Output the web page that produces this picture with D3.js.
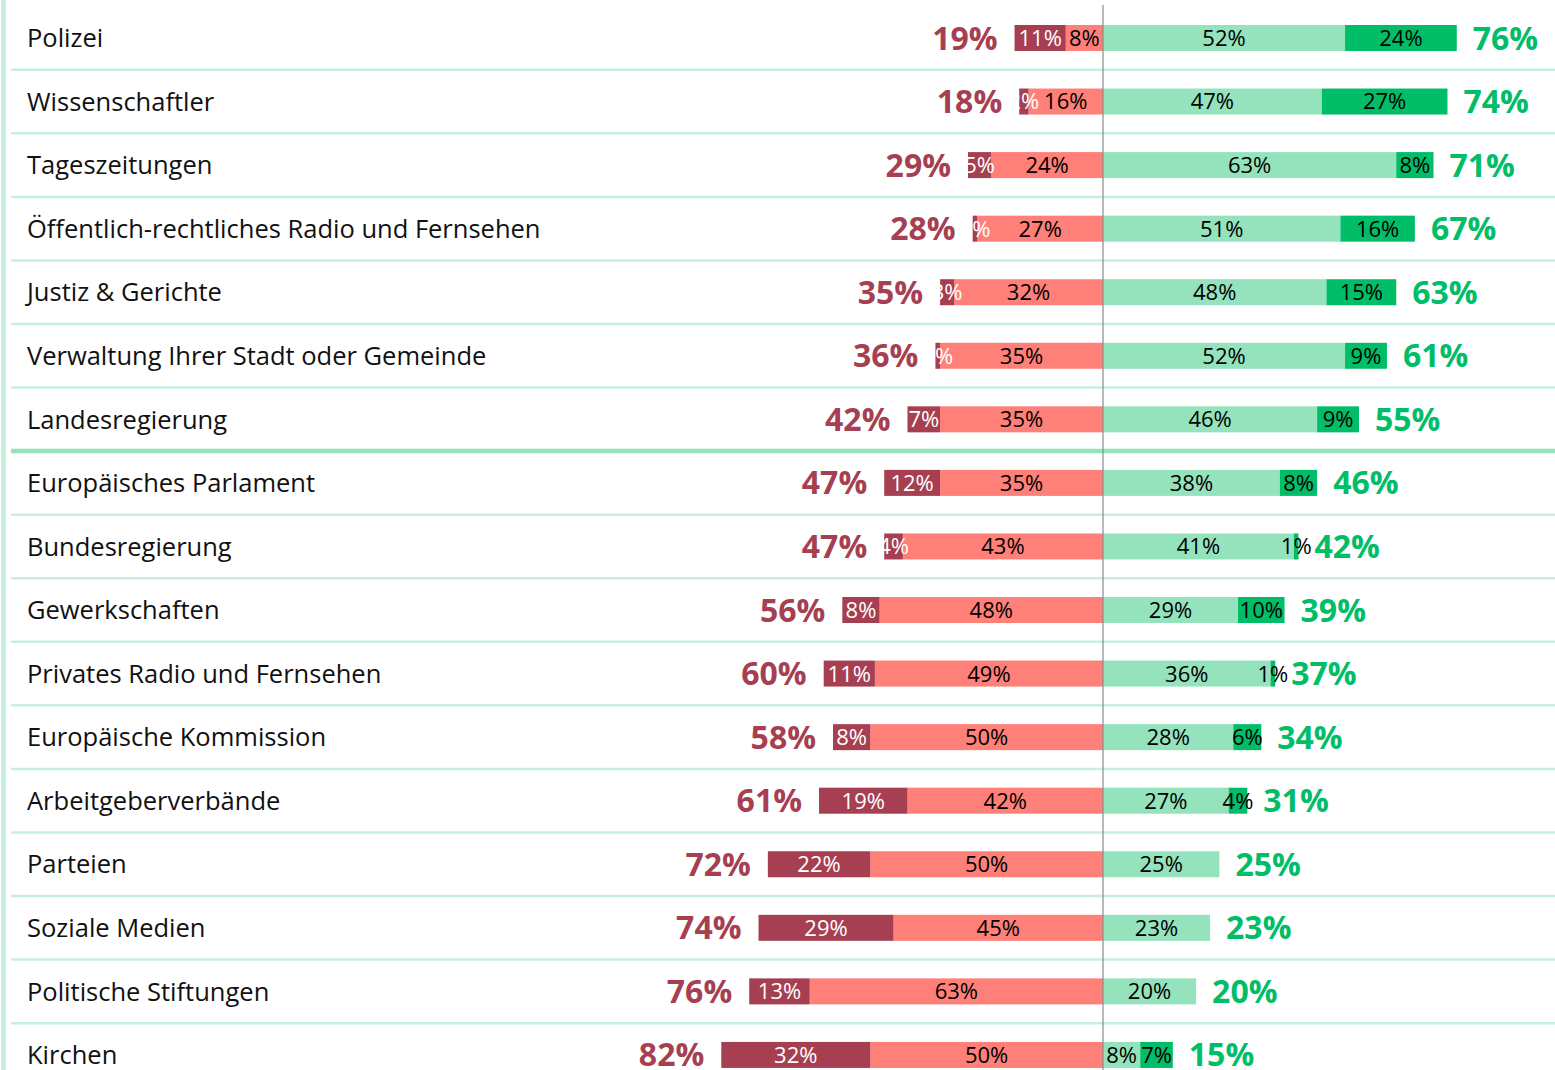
<!DOCTYPE html>
<html>
<head>
<meta charset="utf-8">
<script src="https://cdn.jsdelivr.net/npm/d3@7"></script>
<style>
html,body{margin:0;padding:0;background:#fff;}
svg{display:block;}
</style>
</head>
<body>
<svg id="chart" width="1555" height="1070"></svg>
<script>
const categories = ["Polizei","Wissenschaftler","Tageszeitungen","Öffentlich-rechtliches Radio und Fernsehen","Justiz & Gerichte","Verwaltung Ihrer Stadt oder Gemeinde","Landesregierung","Europäisches Parlament","Bundesregierung","Gewerkschaften","Privates Radio und Fernsehen","Europäische Kommission","Arbeitgeberverbände","Parteien","Soziale Medien","Politische Stiftungen","Kirchen"];
const strongDistrust = [11,2,5,1,3,1,7,12,4,8,11,8,19,22,29,13,32];
const distrust       = [8,16,24,27,32,35,35,35,43,48,49,50,42,50,45,63,50];
const trust          = [52,47,63,51,48,52,46,38,41,29,36,28,27,25,23,20,8];
const strongTrust    = [24,27,8,16,15,9,9,8,1,10,1,6,4,0,0,0,7];
const distrustTotal  = [19,18,29,28,35,36,42,47,47,56,60,58,61,72,74,76,82];
const trustTotal     = [76,74,71,67,63,61,55,46,42,39,37,34,31,25,23,20,15];

const C = {
  darkRed:"#A63F51", lightRed:"#FF7F79", lightGreen:"#94E3BC", darkGreen:"#00BD68",
  redText:"#A63F51", greenText:"#00BD68", sep:"#C6EFDC", sepThick:"#94E3BC", axis:"#8a8a8a"
};

const svg = d3.select("#chart");
const W = 1555, H = 1070;
const center = 1103;
const x = d3.scaleLinear().domain([-100,100]).range([center-465.5, center+465.5]);
const y = d3.scaleBand().domain(categories).range([6.2, 6.2 + 63.56*categories.length]).padding(0);
const barH = 26;

// left vertical accent
svg.append("rect").attr("x",1).attr("y",0).attr("width",5).attr("height",H).attr("fill",C.sep);

// separators
categories.slice(1).forEach((c,i)=>{
  const yy = y(c);
  const thick = (i+1) === 7;
  svg.append("line").attr("x1",11).attr("x2",W).attr("y1",yy).attr("y2",yy)
    .attr("stroke", thick ? C.sepThick : C.sep).attr("stroke-width", thick ? 4.5 : 2.5);
});

// build segments
const segs = [];
categories.forEach((c,i)=>{
  segs.push({c, x0:-distrust[i], x1:0, v:distrust[i], fill:C.lightRed, tc:"#000"});
  segs.push({c, x0:-distrust[i]-strongDistrust[i], x1:-distrust[i], v:strongDistrust[i], fill:C.darkRed, tc:"#fff"});
  segs.push({c, x0:0, x1:trust[i], v:trust[i], fill:C.lightGreen, tc:"#000"});
  segs.push({c, x0:trust[i], x1:trust[i]+strongTrust[i], v:strongTrust[i], fill:C.darkGreen, tc:"#000"});
});
const shown = segs.filter(d=>d.v>0);

svg.append("g").selectAll("rect").data(shown).join("rect")
  .attr("x", d=>x(d.x0)).attr("width", d=>x(d.x1)-x(d.x0))
  .attr("y", d=>y(d.c)+y.bandwidth()/2-barH/2).attr("height", barH)
  .attr("fill", d=>d.fill);

// center line
svg.append("line").attr("x1",center).attr("x2",center).attr("y1",5).attr("y2",H)
  .attr("stroke",C.axis).attr("stroke-width",1.2);

// segment labels
svg.append("g").selectAll("text").data(shown).join("text")
  .attr("x", d=>(x(d.x0)+x(d.x1))/2)
  .attr("y", d=>y(d.c)+y.bandwidth()/2)
  .attr("dy","0.36em")
  .attr("text-anchor","middle")
  .attr("font-family","'Open Sans', sans-serif")
  .attr("font-size",22)
  .attr("fill", d=>d.tc)
  .text(d=>d.v+"%");

// category labels
svg.append("g").selectAll("text").data(categories).join("text")
  .attr("x",27).attr("y", c=>y(c)+y.bandwidth()/2).attr("dy","0.36em")
  .attr("font-family","'Open Sans', sans-serif").attr("font-size",25.5).attr("fill","#111")
  .text(c=>c);

// totals
svg.append("g").selectAll("text").data(categories).join("text")
  .attr("x",(c,i)=>x(-distrustTotal[i])-17).attr("y", c=>y(c)+y.bandwidth()/2).attr("dy","0.36em")
  .attr("text-anchor","end")
  .attr("font-family","'Open Sans', sans-serif").attr("font-weight","bold").attr("font-size",32)
  .attr("fill",C.redText).text((c,i)=>distrustTotal[i]+"%");
svg.append("g").selectAll("text").data(categories).join("text")
  .attr("x",(c,i)=>x(trustTotal[i])+16).attr("y", c=>y(c)+y.bandwidth()/2).attr("dy","0.36em")
  .attr("text-anchor","start")
  .attr("font-family","'Open Sans', sans-serif").attr("font-weight","bold").attr("font-size",32)
  .attr("fill",C.greenText).text((c,i)=>trustTotal[i]+"%");
</script>
</body>
</html>
